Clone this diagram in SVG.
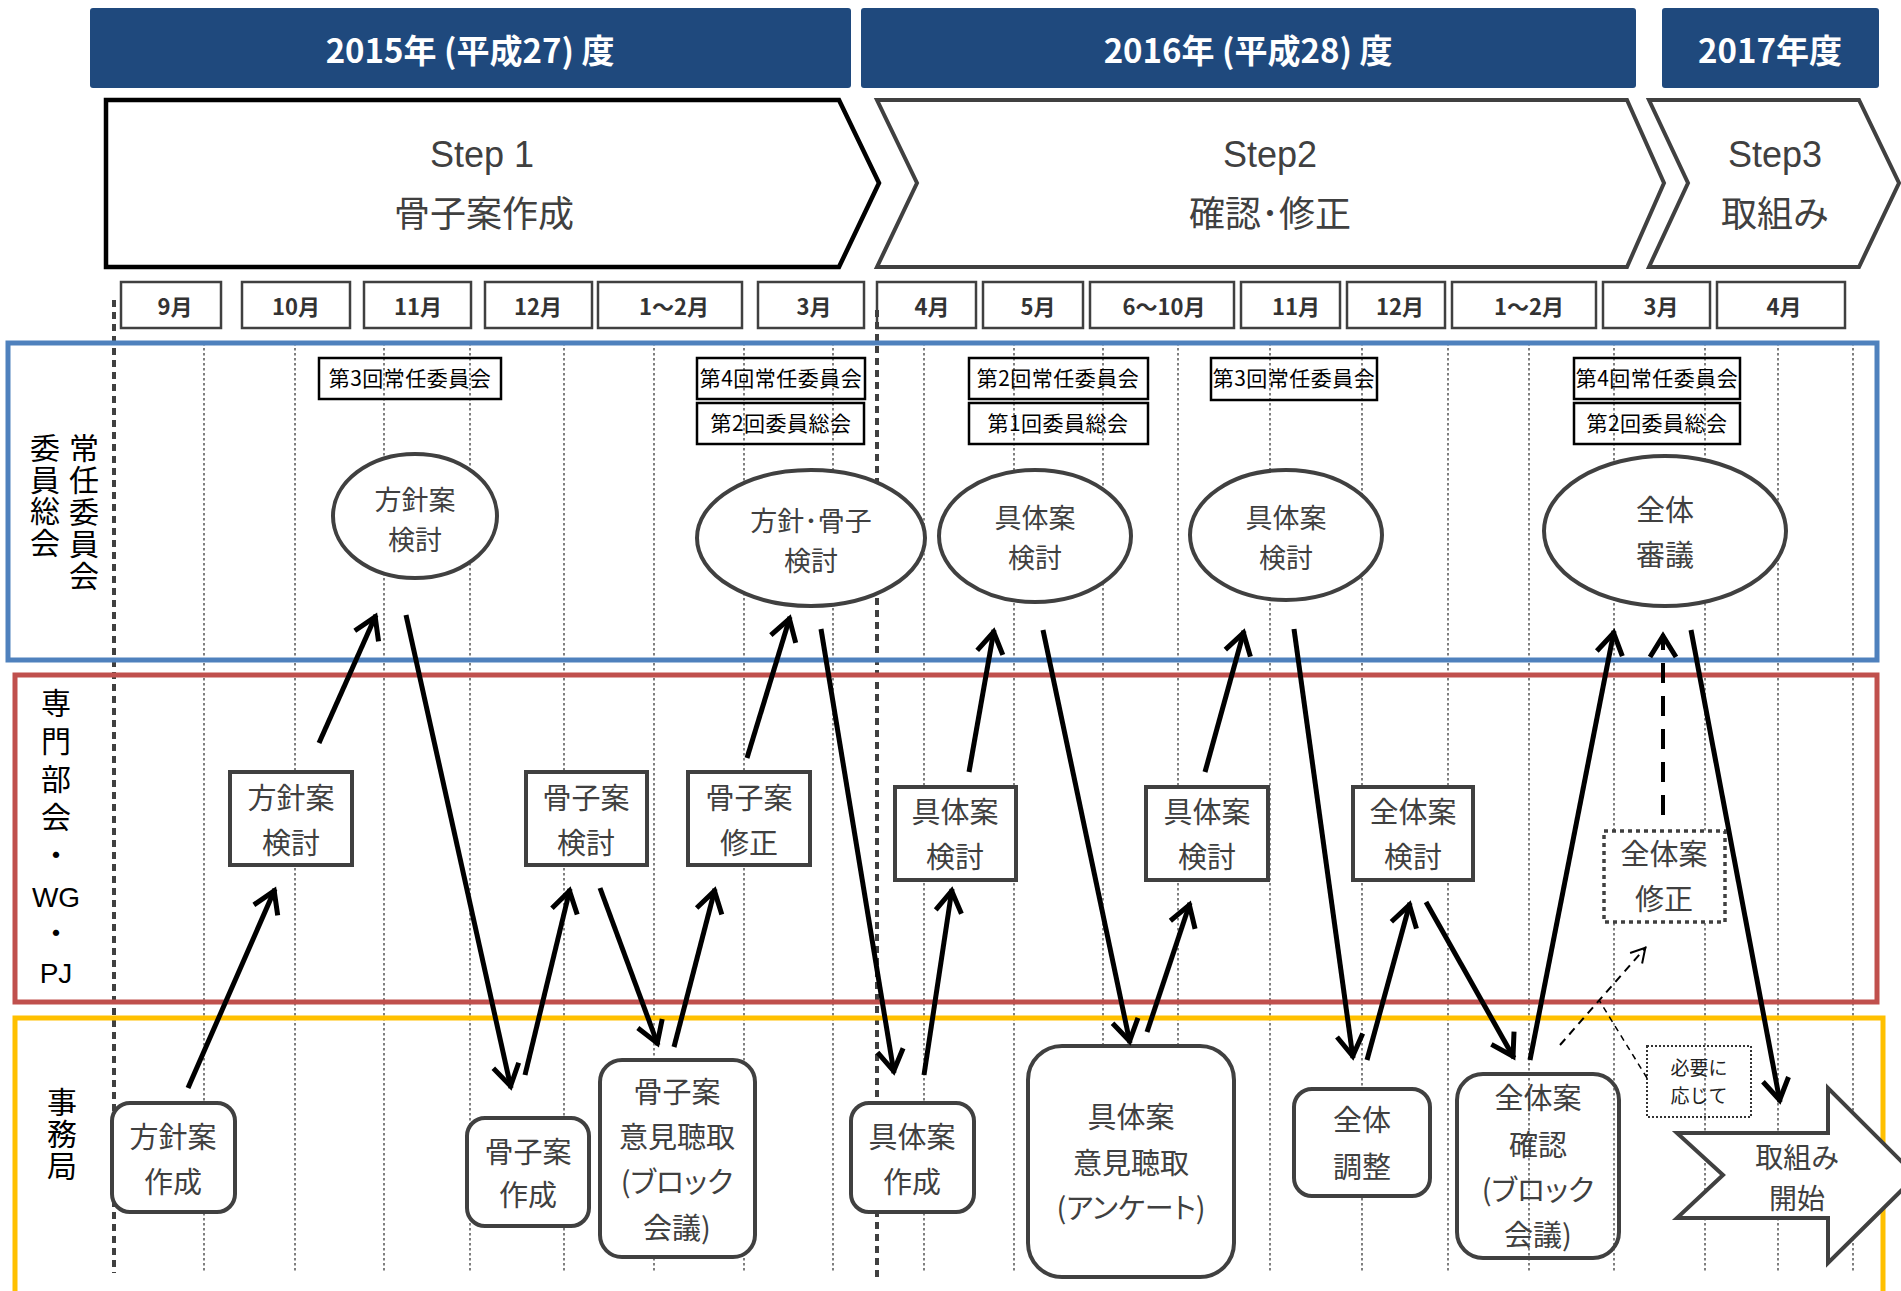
<svg xmlns="http://www.w3.org/2000/svg" width="1901" height="1291" viewBox="0 0 1901 1291">
<defs>
<style>
text{font-family:'Noto Sans CJK JP','Noto Sans',sans-serif;}
.bar{fill:#1F497D;}
.bart{fill:#fff;font-size:33px;font-weight:bold;text-anchor:middle;}
.step{fill:#fff;stroke-linejoin:miter;}
.stept{fill:#404040;font-size:36px;text-anchor:middle;font-family:'Liberation Sans','Noto Sans CJK JP',sans-serif;}
.stepj{fill:#404040;font-size:36px;text-anchor:middle;}
.mon{fill:#fff;stroke:#404040;stroke-width:2.5;}
.mont{fill:#333;font-size:22px;font-weight:bold;text-anchor:middle;}
.thin{stroke:#555;stroke-width:1.5;stroke-dasharray:2.5 2.5;fill:none;}
.thick{stroke:#404040;stroke-width:4;stroke-dasharray:7 5;fill:none;}
.lane{fill:none;stroke-width:5;}
.lbl{fill:#000;font-size:30px;text-anchor:middle;}
.vl{fill:#000;font-size:30px;writing-mode:vertical-rl;text-anchor:start;}
.mtg{fill:none;stroke:#000;stroke-width:2.5;}
.mtgt{fill:#000;font-size:21px;text-anchor:middle;letter-spacing:0.5px;}
.ell{fill:#fff;stroke:#404040;stroke-width:4;}
.box{fill:#fff;stroke:#404040;stroke-width:4;}
.rbox{fill:#fff;stroke:#404040;stroke-width:4;}
.nt{fill:#404040;font-size:29px;text-anchor:middle;font-feature-settings:"palt";}
.et{fill:#404040;font-size:27px;text-anchor:middle;font-feature-settings:"palt";}
.arr{stroke:#000;stroke-width:5;fill:none;marker-end:url(#ah);}
.sm{fill:#222;font-size:19px;text-anchor:middle;}
</style>
<marker id="ah" markerUnits="userSpaceOnUse" viewBox="-30 -16 34 32" refX="0" refY="0" markerWidth="34" markerHeight="32" orient="auto" overflow="visible">
<path d="M-23,-13 L-2,0 L-23,13" fill="none" stroke="#000" stroke-width="5"/>
</marker>
<marker id="ahs" markerUnits="userSpaceOnUse" viewBox="-20 -10 24 20" refX="0" refY="0" markerWidth="24" markerHeight="20" orient="auto" overflow="visible">
<path d="M-15,-8 L-1,0 L-15,8" fill="none" stroke="#000" stroke-width="2"/>
</marker>
</defs>
<rect width="1901" height="1291" fill="#fff"/>

<g id="year-bars">
<rect class="bar" x="90" y="8" width="761" height="80" rx="3"/>
<text class="bart" x="470" y="63">2015年 (平成27) 度</text>
<rect class="bar" x="861" y="8" width="775" height="80" rx="3"/>
<text class="bart" x="1248" y="63">2016年 (平成28) 度</text>
<rect class="bar" x="1662" y="8" width="217" height="80" rx="3"/>
<text class="bart" x="1770" y="63">2017年度</text>
</g>

<g id="steps">
<g id="step1">
<polygon class="step" stroke="#000" stroke-width="4.5" points="106,100 839,100 879,183 839,267 106,267"/>
<text class="stept" x="482" y="167">Step 1</text>
<text class="stepj" x="484" y="227">骨子案作成</text>
</g>
<g id="step2">
<polygon class="step" stroke="#404040" stroke-width="4" points="877,100 1627,100 1664,183 1627,267 877,267 917,183"/>
<text class="stept" x="1270" y="167">Step2</text>
<text class="stepj" x="1270" y="227">確認･修正</text>
</g>
<g id="step3">
<polygon class="step" stroke="#404040" stroke-width="4" points="1649,100 1859,100 1899,183 1859,267 1649,267 1688,183"/>
<text class="stept" x="1775" y="167">Step3</text>
<text class="stepj" x="1775" y="227">取組み</text>
</g>
</g>

<g id="months">
<rect class="mon" x="121" y="282" width="100" height="46"/><text class="mont" x="175" y="315">9月</text>
<rect class="mon" x="242" y="282" width="108" height="46"/><text class="mont" x="296" y="315">10月</text>
<rect class="mon" x="364" y="282" width="107" height="46"/><text class="mont" x="418" y="315">11月</text>
<rect class="mon" x="485" y="282" width="107" height="46"/><text class="mont" x="538" y="315">12月</text>
<rect class="mon" x="598" y="282" width="144" height="46"/><text class="mont" x="674" y="315">1～2月</text>
<rect class="mon" x="758" y="282" width="106" height="46"/><text class="mont" x="814" y="315">3月</text>
<rect class="mon" x="877" y="282" width="99" height="46"/><text class="mont" x="932" y="315">4月</text>
<rect class="mon" x="983" y="282" width="100" height="46"/><text class="mont" x="1038" y="315">5月</text>
<rect class="mon" x="1090" y="282" width="144" height="46"/><text class="mont" x="1164" y="315">6～10月</text>
<rect class="mon" x="1241" y="282" width="99" height="46"/><text class="mont" x="1296" y="315">11月</text>
<rect class="mon" x="1347" y="282" width="98" height="46"/><text class="mont" x="1400" y="315">12月</text>
<rect class="mon" x="1452" y="282" width="144" height="46"/><text class="mont" x="1529" y="315">1～2月</text>
<rect class="mon" x="1603" y="282" width="107" height="46"/><text class="mont" x="1661" y="315">3月</text>
<rect class="mon" x="1717" y="282" width="128" height="46"/><text class="mont" x="1784" y="315">4月</text>
</g>

<g id="gridlines">
<path class="thin" d="M204,343V1273M295,343V1273M384,343V1273M470,343V1273M564,343V1273M654,343V1273M744,343V1273M833,343V1273M924,343V1273M1014,343V1273M1103,343V1273M1178,343V1273M1270,343V1273M1362,343V1273M1448,343V1273M1529,343V1273M1614,343V1273M1705,343V1273M1778,343V1273M1853,343V1273"/>
<path class="thick" d="M114,300V1273M877,310V1280"/>
</g>

<g id="lanes">
<rect class="lane" stroke="#4F81BD" x="8" y="343" width="1869" height="317"/>
<rect class="lane" stroke="#C0504D" x="15" y="675" width="1862" height="327"/>
<path class="lane" stroke="#FFC000" d="M15,1300V1018H1883V1300"/>
</g>

<g id="lane-labels">
<text class="vl" x="84" y="433" style="letter-spacing:2px">常任委員会</text>
<text class="vl" x="45" y="433" style="letter-spacing:1.5px">委員総会</text>
<text class="vl" x="56" y="688" style="letter-spacing:8px">専門部会・</text>
<text class="lbl" x="56" y="907" style="font-size:28px;font-family:'Liberation Sans',sans-serif">WG</text>
<text class="vl" x="56" y="918">・</text>
<text class="lbl" x="56" y="983" style="font-size:28px;font-family:'Liberation Sans',sans-serif">PJ</text>
<text class="vl" x="62" y="1087" style="letter-spacing:2px">事務局</text>
</g>

<g id="meetings">
<rect class="mtg" x="319" y="358" width="182" height="41"/><text class="mtgt" x="410" y="386">第3回常任委員会</text>
<rect class="mtg" x="697" y="358" width="168" height="41"/><text class="mtgt" x="781" y="386">第4回常任委員会</text>
<rect class="mtg" x="697" y="403" width="167" height="41"/><text class="mtgt" x="781" y="431">第2回委員総会</text>
<rect class="mtg" x="969" y="358" width="179" height="41"/><text class="mtgt" x="1058" y="386">第2回常任委員会</text>
<rect class="mtg" x="969" y="403" width="179" height="41"/><text class="mtgt" x="1058" y="431">第1回委員総会</text>
<rect class="mtg" x="1211" y="358" width="166" height="42"/><text class="mtgt" x="1294" y="386">第3回常任委員会</text>
<rect class="mtg" x="1574" y="358" width="166" height="41"/><text class="mtgt" x="1657" y="386">第4回常任委員会</text>
<rect class="mtg" x="1574" y="403" width="166" height="41"/><text class="mtgt" x="1657" y="431">第2回委員総会</text>
</g>

<g id="e1"><ellipse class="ell" cx="415" cy="516" rx="82" ry="62"/><text class="et"><tspan x="415" y="510">方針案</tspan><tspan x="415" y="550">検討</tspan></text></g>
<g id="e2"><ellipse class="ell" cx="811" cy="538" rx="114" ry="68"/><text class="et"><tspan x="811" y="531">方針･骨子</tspan><tspan x="811" y="571">検討</tspan></text></g>
<g id="e3"><ellipse class="ell" cx="1035" cy="536" rx="96" ry="66"/><text class="et"><tspan x="1035" y="528">具体案</tspan><tspan x="1035" y="568">検討</tspan></text></g>
<g id="e4"><ellipse class="ell" cx="1286" cy="535" rx="96" ry="65"/><text class="et"><tspan x="1286" y="528">具体案</tspan><tspan x="1286" y="568">検討</tspan></text></g>
<g id="e5"><ellipse class="ell" cx="1665" cy="531" rx="121" ry="75"/><text class="nt"><tspan x="1665" y="521">全体</tspan><tspan x="1665" y="566">審議</tspan></text></g>

<g id="r1"><rect class="box" x="230" y="772" width="122" height="93"/><text class="nt"><tspan x="291" y="809">方針案</tspan><tspan x="291" y="854">検討</tspan></text></g>
<g id="r2"><rect class="box" x="526" y="772" width="121" height="93"/><text class="nt"><tspan x="586" y="809">骨子案</tspan><tspan x="586" y="854">検討</tspan></text></g>
<g id="r3"><rect class="box" x="688" y="772" width="122" height="93"/><text class="nt"><tspan x="749" y="809">骨子案</tspan><tspan x="749" y="854">修正</tspan></text></g>
<g id="r4"><rect class="box" x="895" y="787" width="121" height="93"/><text class="nt"><tspan x="955" y="823">具体案</tspan><tspan x="955" y="868">検討</tspan></text></g>
<g id="r5"><rect class="box" x="1146" y="787" width="122" height="93"/><text class="nt"><tspan x="1207" y="823">具体案</tspan><tspan x="1207" y="868">検討</tspan></text></g>
<g id="r6"><rect class="box" x="1353" y="787" width="120" height="93"/><text class="nt"><tspan x="1413" y="823">全体案</tspan><tspan x="1413" y="868">検討</tspan></text></g>
<g id="r7"><rect x="1604" y="831" width="121" height="91" fill="#fff" stroke="#404040" stroke-width="3.5" stroke-dasharray="4 4"/><text class="nt"><tspan x="1664" y="865">全体案</tspan><tspan x="1664" y="910">修正</tspan></text></g>

<g id="y1"><rect class="rbox" x="112" y="1103" width="123" height="109" rx="18"/><text class="nt"><tspan x="173" y="1148">方針案</tspan><tspan x="173" y="1193">作成</tspan></text></g>
<g id="y2"><rect class="rbox" x="467" y="1118" width="122" height="108" rx="18"/><text class="nt"><tspan x="528" y="1163">骨子案</tspan><tspan x="528" y="1206">作成</tspan></text></g>
<g id="y3"><rect class="rbox" x="600" y="1060" width="155" height="197" rx="22"/><text class="nt"><tspan x="677" y="1103">骨子案</tspan><tspan x="677" y="1148">意見聴取</tspan><tspan x="677" y="1193">(ブロック</tspan><tspan x="677" y="1239">会議)</tspan></text></g>
<g id="y4"><rect class="rbox" x="851" y="1103" width="123" height="109" rx="18"/><text class="nt"><tspan x="912" y="1148">具体案</tspan><tspan x="912" y="1193">作成</tspan></text></g>
<g id="y5"><rect class="rbox" x="1028" y="1046" width="206" height="231" rx="34"/><text class="nt"><tspan x="1131" y="1128">具体案</tspan><tspan x="1131" y="1174">意見聴取</tspan><tspan x="1131" y="1219">(アンケート)</tspan></text></g>
<g id="y6"><rect class="rbox" x="1294" y="1089" width="136" height="107" rx="18"/><text class="nt"><tspan x="1362" y="1131">全体</tspan><tspan x="1362" y="1178">調整</tspan></text></g>
<g id="y7"><rect x="1457" y="1074" width="162" height="184" rx="26" fill="none" stroke="#404040" stroke-width="4"/><text class="nt"><tspan x="1538" y="1109">全体案</tspan><tspan x="1538" y="1156">確認</tspan><tspan x="1538" y="1201">(ブロック</tspan><tspan x="1538" y="1246">会議)</tspan></text></g>
<g id="note"><rect x="1647" y="1046" width="104" height="71" fill="none" stroke="#333" stroke-width="2" stroke-dasharray="2 2"/><text class="sm"><tspan x="1699" y="1075">必要に</tspan><tspan x="1699" y="1103">応じて</tspan></text></g>
<g id="start"><polygon points="1677,1133 1828,1133 1828,1088 1916,1176 1828,1263 1828,1218 1677,1218 1723,1175" fill="#fff" stroke="#404040" stroke-width="4"/><text class="nt" style="font-size:28px"><tspan x="1797" y="1168">取組み</tspan><tspan x="1797" y="1209">開始</tspan></text></g>

<g id="connectors">
<line class="arr" x1="188" y1="1088" x2="275" y2="889"/>
<line class="arr" x1="319" y1="743" x2="376" y2="615"/>
<line class="arr" x1="406" y1="615" x2="511" y2="1088"/>
<line class="arr" x1="525" y1="1075" x2="570" y2="889"/>
<line class="arr" x1="600" y1="888" x2="658" y2="1045"/>
<line class="arr" x1="674" y1="1047" x2="715" y2="889"/>
<line class="arr" x1="747" y1="758" x2="790" y2="617"/>
<line class="arr" x1="821" y1="629" x2="894" y2="1073"/>
<line class="arr" x1="924" y1="1075" x2="952" y2="889"/>
<line class="arr" x1="969" y1="772" x2="994" y2="630"/>
<line class="arr" x1="1043" y1="630" x2="1130" y2="1043"/>
<line class="arr" x1="1147" y1="1032" x2="1190" y2="903"/>
<line class="arr" x1="1205" y1="772" x2="1244" y2="631"/>
<line class="arr" x1="1294" y1="629" x2="1353" y2="1058"/>
<line class="arr" x1="1367" y1="1060" x2="1410" y2="903"/>
<line class="arr" x1="1426" y1="902" x2="1514" y2="1058"/>
<line class="arr" x1="1530" y1="1060" x2="1614" y2="631"/>
<line class="arr" x1="1691" y1="630" x2="1780" y2="1102"/>
<line x1="1663" y1="815" x2="1663" y2="634" stroke="#000" stroke-width="4" stroke-dasharray="20 13" marker-end="url(#ah)"/>
<line x1="1560" y1="1045" x2="1646" y2="947" stroke="#000" stroke-width="2" stroke-dasharray="8 6" marker-end="url(#ahs)"/>
<line x1="1647" y1="1078" x2="1599" y2="1000" stroke="#000" stroke-width="1.5" stroke-dasharray="6 5"/>
</g>
</svg>
